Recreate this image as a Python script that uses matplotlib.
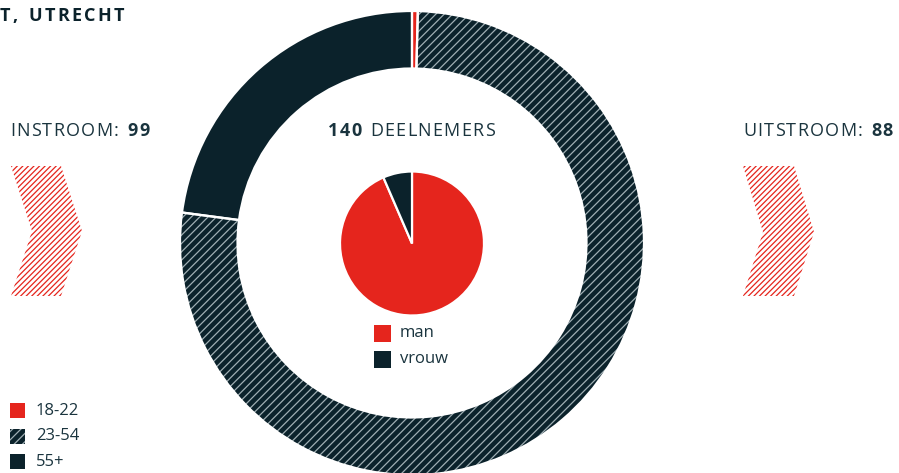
import matplotlib
matplotlib.use("Agg")
import matplotlib.pyplot as plt
from matplotlib.patches import Polygon, Rectangle

# ---------------- data ----------------
age_labels = ["18-22", "23-54", "55+"]
age_values = [0.4, 76.7, 22.9]          # share of participants (%)
gender_labels = ["man", "vrouw"]
gender_values = [93.5, 6.5]             # share (%)
total_participants = 140
instroom = 99
uitstroom = 88
title_text = "T, UTRECHT"

# ---------------- style ----------------
RED = "#E5251D"
DARK = "#0B222B"
HATCH_GREY = "#9FAEB3"
TEXT = "#1A343E"
W, H = 899, 473
plt.rcParams["hatch.linewidth"] = 0.9
FONT = ["Open Sans", "DejaVu Sans"]

fig = plt.figure(figsize=(W / 100, H / 100), dpi=100)
ax = fig.add_axes([0, 0, 1, 1])


def fy(y):
    return H - y


# ---------------- outer donut (age) ----------------
cx, cy = 412, fy(243)
R_out, ring = 232, 57.5
age_colors = [RED, DARK, DARK]
wedges, _ = ax.pie(age_values, startangle=90, counterclock=False,
                   radius=R_out, center=(cx, cy), colors=age_colors,
                   wedgeprops=dict(width=ring, linewidth=0))
wedges[1].set_edgecolor(HATCH_GREY)
wedges[1].set_hatch("////")
wedges[1].set_linewidth(0)
# white separators
ax.pie(age_values, startangle=90, counterclock=False, radius=R_out,
       center=(cx, cy), colors=["none"] * 3,
       wedgeprops=dict(width=ring, linewidth=1.6, edgecolor="white", fill=False))

# ---------------- inner pie (gender) ----------------
ax.pie(gender_values, startangle=90, counterclock=False, radius=72,
       center=(412, fy(243.5)), colors=[RED, DARK],
       wedgeprops=dict(linewidth=1.6, edgecolor="white"))

ax.set_xlim(0, W)
ax.set_ylim(0, H)
ax.set_aspect("auto")
ax.axis("off")

# ---------------- chevrons ----------------
def chevron(x0, x1, tip, notch, ytop, ybot, ymid):
    pts = [(x0, fy(ytop)), (x1, fy(ytop)), (tip, fy(ymid)), (x1, fy(ybot)),
           (x0, fy(ybot)), (notch, fy(ymid))]
    ax.add_patch(Polygon(pts, closed=True, fill=False, edgecolor=RED,
                         linewidth=0, hatch="//////"))


chevron(11, 61, 82, 32, 166, 296, 231)
chevron(743, 794, 814, 763, 166, 296, 232)

# ---------------- texts ----------------
fig.canvas.draw()
renderer = fig.canvas.get_renderer()


def spaced(x, y, s, size, weight, color, track=1.2):
    """Draw text with letter spacing; returns end x."""
    cur = x
    for ch in s:
        if ch == " ":
            t = ax.text(0, 0, "n", fontsize=size, family=FONT, fontweight=weight)
            w = t.get_window_extent(renderer).width * 0.55
            t.remove()
            cur += w + track
            continue
        t = ax.text(cur, fy(y), ch, fontsize=size, family=FONT, fontweight=weight,
                    color=color, va="center", ha="left")
        cur += t.get_window_extent(renderer).width + track
    return cur


def measure(s, size, weight, track):
    objs_end = spaced(0, -100, s, size, weight, "none", track)
    return objs_end


def two_part(x, y, light, bold, size=13, center=False, bold_first=False, track=1.3):
    parts = [(bold, "bold"), (light, "normal")] if bold_first else [(light, "normal"), (bold, "bold")]
    total = 0
    for s, wgt in parts:
        # measure using a temporary invisible draw
        tmp = []
        cur = 0
        for ch in s:
            t = ax.text(0, 0, "n" if ch == " " else ch, fontsize=size, family=FONT, fontweight=wgt)
            w = t.get_window_extent(renderer).width * (0.55 if ch == " " else 1)
            t.remove()
            cur += w + track
        total += cur
    start = x - total / 2 if center else x
    cur = start
    for s, wgt in parts:
        cur = spaced(cur, y, s, size, wgt, TEXT, track)


two_part(10, 131, "INSTROOM: ", str(instroom))
two_part(743, 131, "UITSTROOM: ", str(uitstroom))
two_part(412, 131, " DEELNEMERS", str(total_participants), center=True, bold_first=True)

spaced(0, 16, title_text, 13, "bold", DARK, track=2.2)

# gender legend
for i, (lab, col) in enumerate(zip(gender_labels, [RED, DARK])):
    ycen = 333 + i * 26
    ax.add_patch(Rectangle((374, fy(ycen + 8.5)), 17, 17, facecolor=col, linewidth=0))
    ax.text(400, fy(ycen), lab, fontsize=12, family=FONT, fontweight="normal",
            color=TEXT, va="center", ha="left")

# age legend
for i, lab in enumerate(age_labels):
    ycen = 410.5 + i * 25.5
    if i == 1:
        p = Rectangle((10, fy(ycen + 7.5)), 15, 15, facecolor=DARK,
                      edgecolor=HATCH_GREY, linewidth=0, hatch="////")
    else:
        p = Rectangle((10, fy(ycen + 7.5)), 15, 15, facecolor=age_colors[i], linewidth=0)
    ax.add_patch(p)
    ax.text(36, fy(ycen), lab, fontsize=12, family=FONT, fontweight="normal",
            color=TEXT, va="center", ha="left")

fig.savefig("out.png", dpi=100)
